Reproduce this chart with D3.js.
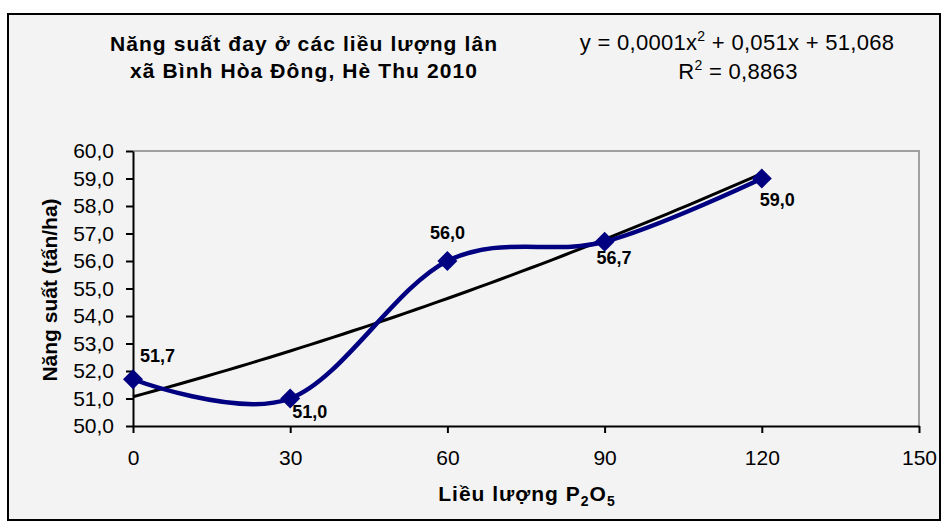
<!DOCTYPE html>
<html>
<head>
<meta charset="utf-8">
<script src="https://cdn.jsdelivr.net/npm/d3@7"></script>
<style>
  body { margin: 0; background: #ffffff; }
  svg { display: block; font-family: "Liberation Sans", Arial, sans-serif; }
</style>
</head>
<body>
<div id="chart"></div>
<script>
// data
const doses = [0, 30, 60, 90, 120];
const yields = [51.7, 51.0, 56.0, 56.7, 59.0];
const xTicks = [0, 30, 60, 90, 120, 150];
const yTicks = [50, 51, 52, 53, 54, 55, 56, 57, 58, 59, 60];
const titleLines = ["Năng suất đay ở các liều lượng lân", "xã Bình Hòa Đông, Hè Thu 2010"];
const r2Text = "0,8863";
const eqParts = ["y = 0,0001x", "2", " + 0,051x + 51,068"];

// label placement relative to each point [dx, dy, anchor]
const labelOffsets = [[7, -17, "start"], [2, 19, "start"], [0, -22, "middle"], [-8, 22, "start"], [-2, 27, "start"]];

const width = 947, height = 527;
const margin = { top: 151, right: 28, bottom: 101, left: 133 };
const innerW = width - margin.left - margin.right;
const innerH = height - margin.top - margin.bottom;

const fmt = d => d3.format(".1f")(d).replace(".", ",");

const svg = d3.select("#chart").append("svg")
  .attr("width", width)
  .attr("height", height);

// chart area with black border
svg.append("rect")
  .attr("x", 8).attr("y", 14)
  .attr("width", 932).attr("height", 506)
  .attr("fill", "#f3f3f3")
  .attr("stroke", "#000")
  .attr("stroke-width", 2);

const g = svg.append("g")
  .attr("transform", "translate(" + margin.left + "," + margin.top + ")");

const x = d3.scaleLinear().domain([0, 150]).range([0, innerW]);
const y = d3.scaleLinear().domain([50, 60]).range([innerH, 0]);

// plot frame (top and right in gray)
g.append("path")
  .attr("d", "M0,0H" + innerW + "V" + innerH)
  .attr("fill", "none")
  .attr("stroke", "#a0a0a0")
  .attr("stroke-width", 2);

const xAxis = g.append("g")
  .attr("transform", "translate(0," + innerH + ")")
  .call(d3.axisBottom(x).tickValues(xTicks).tickSize(7).tickPadding(17).tickSizeOuter(0));

const yAxis = g.append("g")
  .call(d3.axisLeft(y).tickValues(yTicks).tickFormat(fmt).tickSize(7).tickPadding(12).tickSizeOuter(0));

[xAxis, yAxis].forEach(a => {
  a.select(".domain").attr("stroke", "#000").attr("stroke-width", 2);
  a.selectAll(".tick line").attr("stroke", "#000").attr("stroke-width", 2);
  a.selectAll(".tick text")
    .attr("fill", "#000")
    .style("font-family", "'Liberation Sans', Arial, sans-serif")
    .style("font-size", "21px");
});

// polynomial (order 2) trendline, least squares from the data
function polyFit(xs, ys) {
  let s = [0, 0, 0, 0, 0], t = [0, 0, 0];
  xs.forEach((xv, i) => {
    for (let k = 0; k < 5; k++) s[k] += Math.pow(xv, k);
    for (let k = 0; k < 3; k++) t[k] += Math.pow(xv, k) * ys[i];
  });
  const m = [[s[0], s[1], s[2], t[0]], [s[1], s[2], s[3], t[1]], [s[2], s[3], s[4], t[2]]];
  for (let i = 0; i < 3; i++) {
    for (let j = i + 1; j < 3; j++) {
      const f = m[j][i] / m[i][i];
      for (let k = i; k < 4; k++) m[j][k] -= f * m[i][k];
    }
  }
  const c = [0, 0, 0];
  for (let i = 2; i >= 0; i--) {
    let v = m[i][3];
    for (let k = i + 1; k < 3; k++) v -= m[i][k] * c[k];
    c[i] = v / m[i][i];
  }
  return c;
}
const coef = polyFit(doses, yields);
const trendPts = d3.range(0, 120.01, 2).map(d => [d, coef[0] + coef[1] * d + coef[2] * d * d]);

g.append("path")
  .datum(trendPts)
  .attr("fill", "none")
  .attr("stroke", "#000")
  .attr("stroke-width", 3)
  .attr("d", d3.line().x(d => x(d[0])).y(d => y(d[1])));

// smoothed series line
const pts = doses.map((d, i) => ({ x: d, y: yields[i] }));
g.append("path")
  .datum(pts)
  .attr("fill", "none")
  .attr("stroke", "#000080")
  .attr("stroke-width", 4.5)
  .attr("d", d3.line().x(d => x(d.x)).y(d => y(d.y)).curve(d3.curveCardinal.tension(0)));

g.selectAll(".marker")
  .data(pts)
  .enter()
  .append("path")
  .attr("class", "marker")
  .attr("fill", "#000080")
  .attr("d", d3.symbol().type(d3.symbolSquare).size(200))
  .attr("transform", d => "translate(" + x(d.x) + "," + y(d.y) + ") rotate(45)");

g.selectAll(".point-label")
  .data(pts)
  .enter()
  .append("text")
  .attr("class", "point-label")
  .attr("x", (d, i) => x(d.x) + labelOffsets[i][0])
  .attr("y", (d, i) => y(d.y) + labelOffsets[i][1])
  .attr("text-anchor", (d, i) => labelOffsets[i][2])
  .style("font-size", "18px")
  .style("font-weight", "bold")
  .text(d => fmt(d.y));

// title
svg.append("text")
  .attr("text-anchor", "middle")
  .style("font-size", "21px")
  .style("font-weight", "bold")
  .style("letter-spacing", "1.1px")
  .selectAll("tspan")
  .data(titleLines)
  .enter()
  .append("tspan")
  .attr("x", 304)
  .attr("y", (d, i) => 51 + i * 27)
  .text(d => d);

// trendline equation
const eq = svg.append("text")
  .attr("x", 737).attr("y", 50)
  .attr("text-anchor", "middle")
  .style("font-size", "22px")
  .style("letter-spacing", "0.3px");
eq.append("tspan").text(eqParts[0]);
eq.append("tspan").attr("dy", -9).style("font-size", "14px").text(eqParts[1]);
eq.append("tspan").attr("dy", 9).text(eqParts[2]);

const r2 = svg.append("text")
  .attr("x", 738).attr("y", 79)
  .attr("text-anchor", "middle")
  .style("font-size", "22px")
  .style("letter-spacing", "0.3px");
r2.append("tspan").text("R");
r2.append("tspan").attr("dy", -9).style("font-size", "14px").text("2");
r2.append("tspan").attr("dy", 9).text(" = " + r2Text);

// axis titles
const xt = svg.append("text")
  .attr("x", 527).attr("y", 501)
  .attr("text-anchor", "middle")
  .style("font-size", "21px")
  .style("font-weight", "bold")
  .style("letter-spacing", "1px");
xt.append("tspan").text("Liều lượng P");
xt.append("tspan").attr("dy", 5).style("font-size", "14px").text("2");
xt.append("tspan").attr("dy", -5).text("O");
xt.append("tspan").attr("dy", 5).style("font-size", "14px").text("5");

svg.append("text")
  .attr("transform", "translate(57,290) rotate(-90)")
  .attr("text-anchor", "middle")
  .style("font-size", "21px")
  .style("font-weight", "bold")
  .text("Năng suất (tấn/ha)");
</script>
</body>
</html>
